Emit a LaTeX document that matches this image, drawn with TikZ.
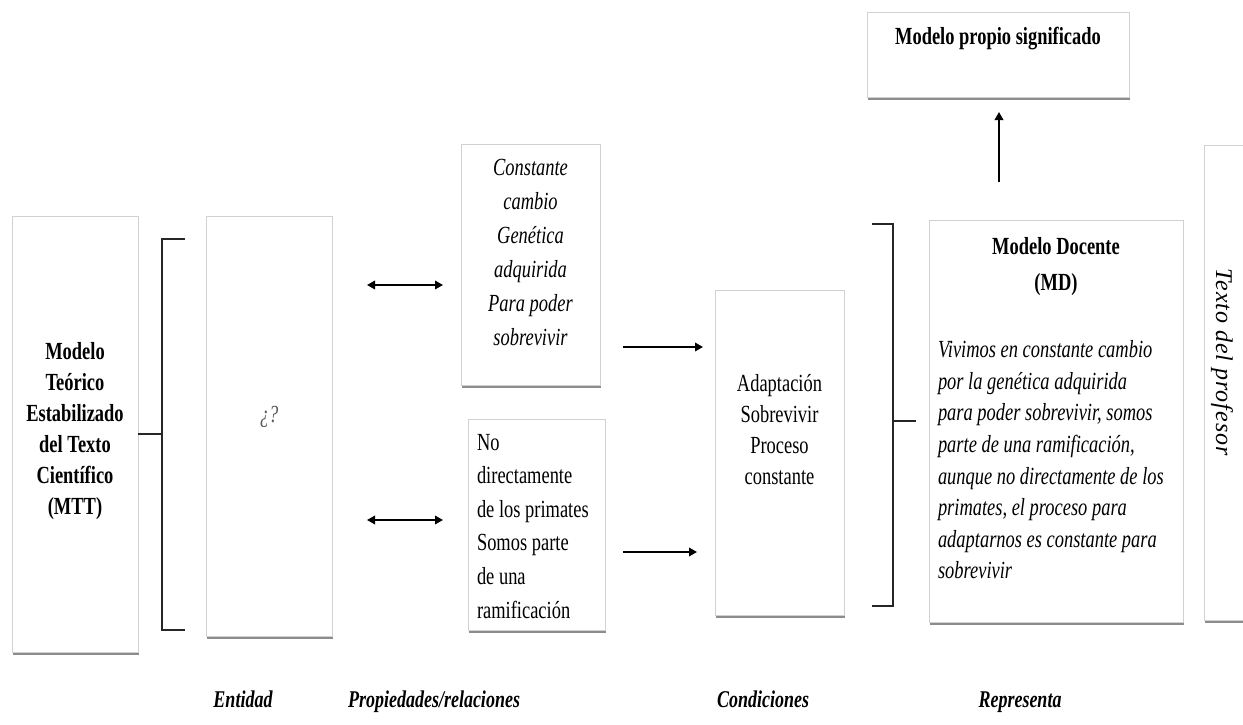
\documentclass[tikz,border=0pt]{standalone}
\usepackage{fontspec}
\setmainfont{Liberation Serif}[FakeStretch=0.75]
\newfontfamily\wideserif{Liberation Serif}[LetterSpace=4]
\usetikzlibrary{arrows.meta,shadows}

% text block of fixed size, content starting #3 below the top
\newcommand\panel[4]{\parbox[c][#2][t]{#1}{\vspace*{#3}#4}}

\begin{document}
\begin{tikzpicture}[x=1pt,y=-1pt,
  box/.style={draw=black!18, line width=0.7pt, fill=white, inner sep=0pt, outer sep=0pt,
    drop shadow={shadow xshift=1.2pt, shadow yshift=-2.8pt, fill=black!60, opacity=0.75}},
  arr/.style={line width=1.8pt, -{Triangle[length=8pt,width=8.5pt]}},
  darr/.style={line width=1.8pt, {Triangle[length=8pt,width=8.5pt]}-{Triangle[length=8pt,width=8.5pt]}},
  brk/.style={line width=1.3pt, black!85},
  tag/.style={font=\bfseries\itshape\fontsize{24}{28}\selectfont, anchor=base, inner sep=0pt}
]
\useasboundingbox (0,0) rectangle (1243,725);

% model of the scientific text
\node[box] (mtt) at (75,434) {\panel{126pt}{436pt}{126pt}{\centering\bfseries\fontsize{24.6}{31}\selectfont
  Modelo\\Teórico\\Estabilizado\\del Texto\\Científico\\(MTT)}};

% entity
\node[box] (ent) at (269,426) {\panel{126pt}{420pt}{190pt}{\centering\itshape\color{black!65}\fontsize{24.6}{30}\selectfont ¿?}};

% properties / relations
\node[box] (pr1) at (530.5,264.5) {\panel{139pt}{241pt}{15pt}{\centering\itshape\fontsize{24.6}{34}\selectfont
  Constante\\cambio\\Genética\\adquirida\\Para poder\\sobrevivir}};
\node[box] (pr2) at (536.5,524.5) {\panel{137pt}{211pt}{15pt}{\raggedright\leftskip=9pt\fontsize{24.6}{33.6}\selectfont
  No\\directamente\\de los primates\\Somos parte\\de una\\ramificación}};

% conditions
\node[box] (cond) at (779.5,452.5) {\panel{129pt}{325pt}{84pt}{\centering\fontsize{24.6}{31}\selectfont
  Adaptación\\Sobrevivir\\Proceso\\constante}};

% teacher model
\node[box] (md) at (1056,421) {\panel{254pt}{402pt}{17pt}{%
  {\centering\bfseries\fontsize{24.6}{36}\selectfont Modelo Docente\\(MD)\par}
  \vspace{36pt}
  {\raggedright\leftskip=9pt\itshape\fontsize{24.6}{31.6}\selectfont
  Vivimos en constante cambio\\por la genética adquirida\\para poder sobrevivir, somos\\parte de una ramificación,\\aunque no directamente de los\\primates, el proceso para\\adaptarnos es constante para\\sobrevivir\par}}};

% own meaning model
\node[box] (mp) at (998,54.5) {\panel{262pt}{85pt}{15pt}{\centering\bfseries\fontsize{24.6}{30}\selectfont Modelo propio significado}};

% teacher text
\node[box, minimum width=58pt, minimum height=475pt] (tp) at (1233,382.5) {};
\node[rotate=-90, inner sep=0pt, font=\wideserif\itshape\fontsize{24}{28}\selectfont] (tptxt) at (1222,362) {Texto del profesor};

% brackets
\coordinate (lbt) at (185,239);
\coordinate (lbb) at (185,630);
\coordinate (lbm) at (162,434);
\draw[brk] (lbt) -- (162,239) -- (162,630) -- (lbb);
\draw[brk] (mtt.east) -- (lbm);

\coordinate (rbt) at (872,224);
\coordinate (rbb) at (872,606);
\coordinate (rbm) at (893,421);
\coordinate (rbx) at (916,421);
\draw[brk] (rbt) -- (893,224) -- (893,606) -- (rbb);
\draw[brk] (rbm) -- (rbx);

% arrows
\coordinate (d1a) at (367,285); \coordinate (d1b) at (443,285);
\coordinate (d2a) at (367,520); \coordinate (d2b) at (443,520);
\draw[darr] (d1a) -- (d1b);
\draw[darr] (d2a) -- (d2b);

\coordinate (a1a) at (623,347); \coordinate (a1b) at (703,347);
\coordinate (a2a) at (623,552); \coordinate (a2b) at (697,552);
\draw[arr] (a1a) -- (a1b);
\draw[arr] (a2a) -- (a2b);

\coordinate (upa) at (999,182); \coordinate (upb) at (999,112);
\draw[arr] (upa) -- (upb);

% column labels
\node[tag] (t1) at (243,707) {Entidad};
\node[tag] (t2) at (434,707) {Propiedades/relaciones};
\node[tag] (t3) at (763,707) {Condiciones};
\node[tag] (t4) at (1020,707) {Representa};
\end{tikzpicture}
\end{document}
